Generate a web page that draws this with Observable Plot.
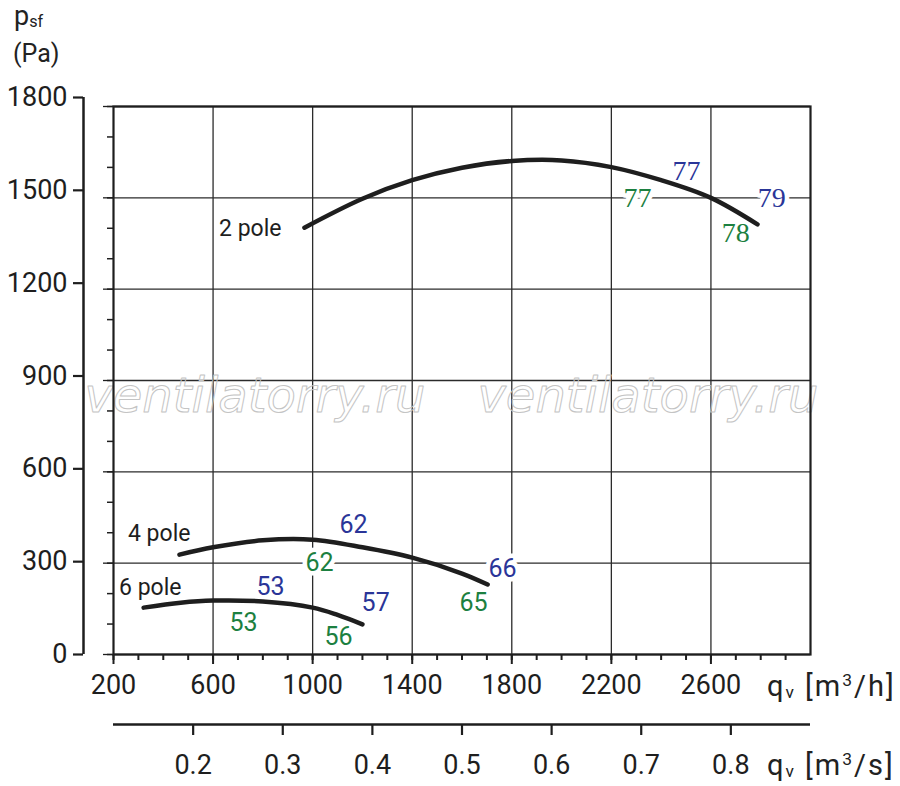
<!DOCTYPE html>
<html><head><meta charset="utf-8">
<script src="https://cdn.jsdelivr.net/npm/d3@7"></script>
<script src="https://cdn.jsdelivr.net/npm/@observablehq/plot@0.6"></script>
<style>
body{margin:0;background:#fff;}
#wrap{position:relative;width:900px;height:786px;overflow:hidden;font-family:Roboto,sans-serif;color:#222;}
#wrap svg{position:absolute;left:0;top:0;background:transparent;}
.lab{position:absolute;white-space:nowrap;line-height:1;}
.lab sub{font-size:0.6em;vertical-align:-0.1em;}
.lab sup{font-size:0.6em;vertical-align:0.6em;}
</style></head><body><div id="wrap"></div>
<script>
// ---- data ----
const qMajorTicks = [200, 600, 1000, 1400, 1800, 2200, 2600];
const qGrid = [600, 1000, 1400, 1800, 2200, 2600];
const qMinorTicks = [200,300,400,500,600,700,800,900,1000,1100,1200,1300,1400,1500,1600,1700,1800,1900,2000,2100,2200,2300,2400,2500,2600,2700,2800,2900];
const pMajorTicks = [0, 300, 600, 900, 1200, 1500, 1800];
const pMinorTicks = [0,100,200,300,400,500,600,700,800,900,1000,1100,1200,1300,1400,1500,1600,1700,1800];
const qsTicks = [0.2, 0.3, 0.4, 0.5, 0.6, 0.7, 0.8];

const pole2 = [[967,1402],[1200,1497],[1400,1558],[1600,1599],[1800,1621],[2000,1623],[2200,1601],[2400,1558],[2600,1500],[2787,1413]];
const pole4 = [[465,328],[600,352],[800,375],[1000,377],[1200,352],[1400,318],[1600,266],[1703,230]];
const pole6 = [[321,154],[470,170],[600,177],[800,174],[1000,154],[1100,130],[1200,99]];

const curveNames = ["2 pole", "4 pole", "6 pole"];
const curveNameAt = [[875,1399],[509,397],[473,220]];

// sound level labels: [q, p, text, halo]
const blueSans = [[1164,424,"62",false],[1763,282,"66",true],[831,223,"53",false],[1253,168,"57",false]];
const greenSans = [[1028,299,"62",true],[1646,168,"65",false],[722,102,"53",false],[1104,56,"56",false]];
const blueSerif = [[2502,1587,"77",false],[2844,1500,"79",true]];
const greenSerif = [[2305,1500,"77",true],[2700,1383,"78",false]];

const watermark = [[768,848,"ventilatorry.ru"],[2347,848,"ventilatorry.ru"]];

// ---- build ----
const curveRows = [];
[pole2, pole4, pole6].forEach((arr, i) => arr.forEach(([q,p]) => curveRows.push({q, p, pole: curveNames[i]})));
const toRows = arr => arr.map(([q,p,text,halo]) => ({q,p,text,halo}));

const BLUE = "#2a3598", GREEN = "#1c8040", INK = "#1e1e1e";
const W = 900, H = 786;

const labelMarks = (rows, color, font, size) => [
  Plot.text(rows.filter(d=>d.halo), {x:"q", y:"p", text:"text", fill:color, stroke:"white", strokeWidth:9, fontFamily:font, fontSize:size}),
  Plot.text(rows.filter(d=>!d.halo), {x:"q", y:"p", text:"text", fill:color, fontFamily:font, fontSize:size})
];

const main = Plot.plot({
  width: W, height: H,
  marginLeft: 113, marginRight: 90, marginTop: 106, marginBottom: 132,
  style: {background: "transparent", fontFamily: "Roboto", color: INK},
  x: {domain: [200, 3000]},
  y: {domain: [0, 1800]},
  marks: [
    Plot.ruleX(qGrid, {stroke: "#2b2b2b", strokeWidth: 1.3}),
    Plot.ruleY(pMajorTicks, {stroke: "#2b2b2b", strokeWidth: 1.3}),
    Plot.text(watermark.map(([q,p,t])=>({q,p,t})), {x:"q", y:"p", text:"t", fill:"none", stroke:"#c4c4c4", strokeWidth:1, fontFamily:"DejaVu Sans", fontStyle:"italic", fontSize:48}),
    Plot.frame({stroke: INK, strokeWidth: 2.2}),
    Plot.axisY({ticks: pMinorTicks, tickSize: 6, tickFormat: () => "", label: null, strokeWidth: 1.5, stroke: INK}),
    Plot.axisY({ticks: pMajorTicks, tickSize: 10, tickFormat: () => "", label: null, strokeWidth: 1.3, stroke: INK}),
    Plot.axisX({ticks: qMinorTicks, tickSize: 6, tickFormat: () => "", label: null, strokeWidth: 2, stroke: INK}),
    Plot.axisX({ticks: qMajorTicks, tickSize: 10, tickPadding: 10, label: null, strokeWidth: 2, stroke: INK, fill: INK, fontSize: 27, fontFamily: "Roboto", tickFormat: d => String(d)}),
    Plot.line(curveRows, {x: "q", y: "p", z: "pole", curve: "catmull-rom", stroke: INK, strokeWidth: 4.5, strokeLinecap: "round"}),
    Plot.text(curveNames.map((n,i)=>({n, q: curveNameAt[i][0], p: curveNameAt[i][1]})), {x:"q", y:"p", text:"n", textAnchor:"end", fill:INK, fontFamily:"Roboto", fontSize:23}),
    ...labelMarks(toRows(blueSans), BLUE, "Roboto", 25),
    ...labelMarks(toRows(greenSans), GREEN, "Roboto", 25),
    ...labelMarks(toRows(blueSerif), BLUE, "Liberation Serif", 28),
    ...labelMarks(toRows(greenSerif), GREEN, "Liberation Serif", 28)
  ]
});

const leftAxis = Plot.plot({
  width: W, height: H,
  marginLeft: 83, marginRight: W - 84, marginTop: 97, marginBottom: 132,
  style: {background: "transparent", fontFamily: "Roboto", color: INK},
  x: {domain: [0, 1], axis: null},
  y: {domain: [0, 1800]},
  marks: [
    Plot.ruleX([0], {stroke: INK, strokeWidth: 2.5}),
    Plot.axisY({ticks: pMajorTicks, tickSize: 10, tickPadding: 6, label: null, strokeWidth: 2.2, stroke: INK, fill: INK, fontSize: 27, fontFamily: "Roboto", tickFormat: d => String(d)})
  ]
});

const secAxis = Plot.plot({
  width: W, height: H,
  marginLeft: 113, marginRight: 90, marginTop: 723, marginBottom: 62,
  style: {background: "transparent", fontFamily: "Roboto", color: INK},
  x: {domain: [400/3600, 3200/3600]},
  y: {domain: [0, 1], axis: null},
  marks: [
    Plot.ruleY([0], {stroke: INK, strokeWidth: 2.5}),
    Plot.axisX({ticks: qsTicks, tickSize: 11, tickPadding: 19, label: null, strokeWidth: 2.2, stroke: INK, fill: INK, fontSize: 27, fontFamily: "Roboto", tickFormat: d3.format(".1f")})
  ]
});

const wrap = document.getElementById("wrap");
wrap.append(main, leftAxis, secAxis);

const labels = [
  {html: "p<sub>sf</sub>", left: 14, top: 3, size: 27, ls: 0},
  {html: "(Pa)", left: 13, top: 41, size: 25, ls: 0},
  {html: "q<sub>v</sub> [m<sup>3</sup>/h]", left: 767, top: 672, size: 29, ls: 2},
  {html: "q<sub>v</sub> [m<sup>3</sup>/s]", left: 767, top: 751, size: 29, ls: 2}
];
labels.forEach(l => {
  const d = document.createElement("div");
  d.className = "lab";
  d.innerHTML = l.html;
  d.style.left = l.left + "px";
  d.style.top = l.top + "px";
  d.style.fontSize = l.size + "px";
  d.style.letterSpacing = l.ls + "px";
  wrap.append(d);
});
</script></body></html>
